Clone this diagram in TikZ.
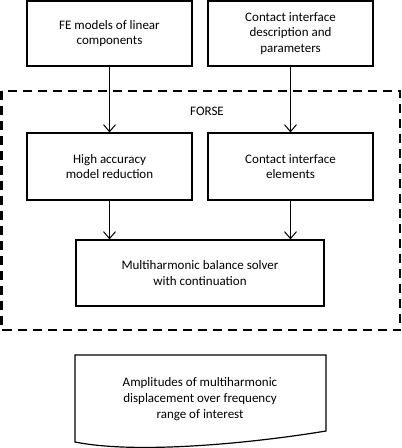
\documentclass[tikz,border=0pt]{standalone}
\usepackage{fontspec}
\setmainfont{Carlito}
\usetikzlibrary{arrows.meta}

\tikzset{
	blk/.style = {draw, line width=1.2pt, align=center, inner sep=0pt, font=\fontsize{13}{15.7}\selectfont},
	flow/.style = {line width=1pt, -{Straight Barb[length=7pt,width=12pt,line width=1pt]}}
}

\begin{document}
\begin{tikzpicture}[x=1pt, y=-1pt]
				\useasboundingbox (0,0) rectangle (402,448);
				\node[blk, minimum width=165pt, minimum height=65pt] (fe) at (109.5,33.5) {FE models of linear\\components};
				\node[blk, minimum width=165pt, minimum height=65pt] (cip) at (290.5,33.5) {Contact interface\\description and\\parameters};
				\draw[line width=2.5pt, dash pattern=on 9pt off 6pt] (1.5,91) rectangle (400,330);
				\node[font=\fontsize{13}{15.7}\selectfont] (forse) at (207,111) {FORSE};
				\node[blk, minimum width=165pt, minimum height=67pt] (red) at (109.5,166.5) {High accuracy\\model reduction};
				\node[blk, minimum width=165pt, minimum height=67pt] (cie) at (290.5,166.5) {Contact interface\\elements};
				\node[blk, minimum width=248pt, minimum height=66pt] (mhb) at (200,273) {Multiharmonic balance solver\\with continuation};
				\draw[line width=1.2pt] (75,442) -- (75,355) -- (326,355) -- (326,431) .. controls (260,442) and (140,455) .. cycle;
				\node[align=center, font=\fontsize{13}{15.7}\selectfont] (amp) at (200,399) {Amplitudes of multiharmonic\\displacement over frequency\\range of interest};
				\draw[flow] (fe) -- (red);
				\draw[flow] (cip) -- (cie);
				\draw[flow] (red) -- (red |- mhb.north);
				\draw[flow] (cie) -- (cie |- mhb.north);
			\end{tikzpicture}
\end{document}
